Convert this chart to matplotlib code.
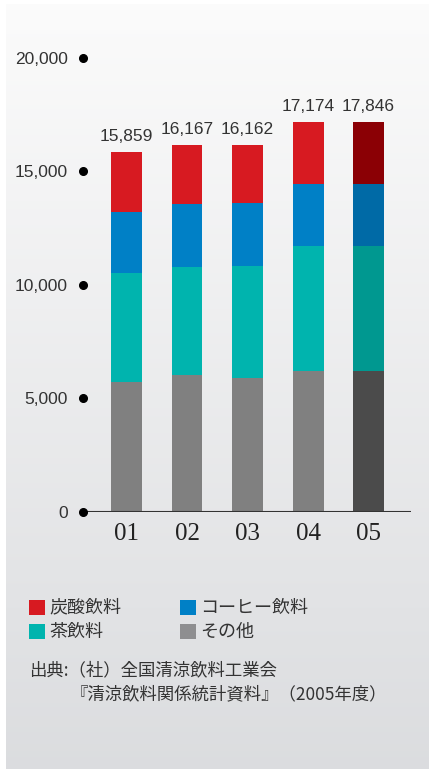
import numpy as np
import matplotlib.pyplot as plt
from matplotlib.patches import Rectangle

# データ
years = ['01', '02', '03', '04', '05']
other = [5712, 6008, 5902, 6198, 6198]
tea = [4810, 4777, 4927, 5513, 5513]
coffee = [2690, 2779, 2779, 2735, 2735]
soda = [2647, 2603, 2554, 2728, 2728]
totals = [15859, 16167, 16162, 17174, 17846]
y_ticks = [0, 5000, 10000, 15000, 20000]

colors = {'soda': '#d71a21', 'coffee': '#0080c6', 'tea': '#00b4ae', 'other': '#808080'}
colors_last = {'soda': '#8b0005', 'coffee': '#006aa6', 'tea': '#009890', 'other': '#4b4b4b'}

W, H = 429, 769
fig = plt.figure(figsize=(W / 100, H / 100), dpi=100)
fig.patch.set_facecolor('white')

# 背景のグラデーション
bg = fig.add_axes([6 / W, 0, 1 - 6 / W, 1 - 4 / H], zorder=-10)
grad = np.linspace(0, 1, 256).reshape(-1, 1)
top_c = np.array([0.985, 0.985, 0.985])
bot_c = np.array([0.86, 0.865, 0.875])
img = top_c + (bot_c - top_c) * grad[:, :, None]
bg.imshow(img, aspect='auto', extent=[0, 1, 0, 1], origin='upper')
bg.set_axis_off()

ax = fig.add_axes([83 / W, (H - 511.5) / H, 328 / W, 476.07 / H])
ax.patch.set_alpha(0)
x = np.arange(len(years))
bw = 0.512

bottom = np.zeros(len(years))
for key, vals in [('other', other), ('tea', tea), ('coffee', coffee), ('soda', soda)]:
    cols = [colors[key]] * (len(years) - 1) + [colors_last[key]]
    ax.bar(x, vals, bw, bottom=bottom, color=cols, linewidth=0, zorder=2)
    bottom += np.array(vals)

# 合計値ラベル
for i, t in enumerate(totals):
    ax.text(x[i], bottom[i] + 350, f'{t:,}', ha='center', va='bottom',
            fontsize=12.5, color='#333333', family='Liberation Sans')

ax.set_xlim(-0.719, 4.702)
ax.set_ylim(0, 21000)
for s in ax.spines.values():
    s.set_visible(False)
ax.axhline(0, color='#333333', linewidth=1.5, zorder=3)

# 目盛り（黒丸）
ax.plot([-0.719] * len(y_ticks), y_ticks, 'o', color='black', markersize=5.5,
        clip_on=False, zorder=4)
ax.set_yticks(y_ticks)
ax.set_yticklabels([f'{v:,}' for v in y_ticks], fontsize=12.5, color='#333333',
                   family='Liberation Sans')
ax.tick_params(axis='y', length=0, pad=11)
ax.set_xticks(x)
ax.set_xticklabels(years, fontsize=18, color='#222222', family='Liberation Serif')
ax.tick_params(axis='x', length=0, pad=8)

# 凡例
jp = ['Noto Sans CJK JP', 'DejaVu Sans']
leg = [('炭酸飲料', colors['soda'], 29, 600), ('コーヒー飲料', colors['coffee'], 180, 600),
       ('茶飲料', colors['tea'], 29, 624), ('その他', '#8e8e90', 180, 624)]
for name, c, px, py in leg:
    fig.add_artist(Rectangle((px / W, 1 - (py + 15) / H), 16 / W, 15 / H,
                             transform=fig.transFigure, color=c, linewidth=0))
    fig.text((px + 20) / W, 1 - (py + 7.5) / H, name, fontsize=13, color='#333333',
             family=jp, va='center', ha='left')

fig.text(29 / W, 1 - 670 / H, '出典:（社）全国清涼飲料工業会', fontsize=12.5,
         color='#333333', family=jp, va='center', ha='left')
fig.text(71 / W, 1 - 694 / H, '『清涼飲料関係統計資料』（2005年度）', fontsize=12.5,
         color='#333333', family=jp, va='center', ha='left')

fig.savefig('out.png', dpi=100)
